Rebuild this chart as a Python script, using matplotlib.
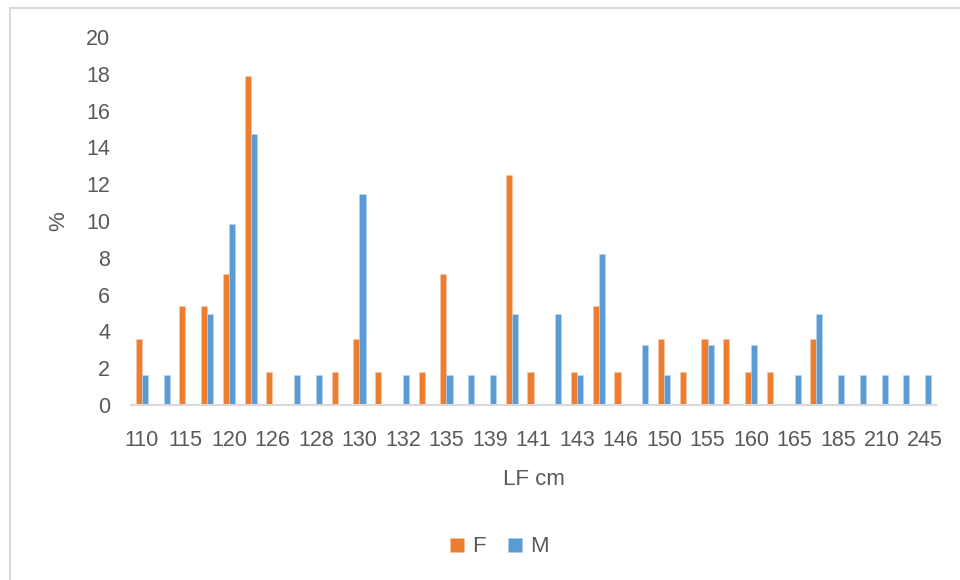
import numpy as np
import matplotlib
matplotlib.use("Agg")
import matplotlib.pyplot as plt
from matplotlib.lines import Line2D

plt.rcParams['font.family'] = ['Liberation Sans', 'DejaVu Sans']

# LF classes shown on the axis (every second class is labelled)
lf_labels = ["110", "115", "120", "126", "128", "130", "132", "135", "139", "141",
             "143", "146", "150", "155", "160", "165", "185", "210", "245"]

# % of females and males per LF class (37 classes)
female = [3.57, 0, 5.36, 5.36, 7.14, 17.86, 1.79, 0, 0, 1.79,
          3.57, 1.79, 0, 1.79, 7.14, 0, 0, 12.5, 1.79, 0,
          1.79, 5.36, 1.79, 0, 3.57, 1.79, 3.57, 3.57, 1.79, 1.79,
          0, 3.57, 0, 0, 0, 0, 0]
male = [1.64, 1.64, 0, 4.92, 9.84, 14.75, 0, 1.64, 1.64, 0,
        11.48, 0, 1.64, 0, 1.64, 1.64, 1.64, 4.92, 0, 4.92,
        1.64, 8.2, 0, 3.28, 1.64, 0, 3.28, 0, 3.28, 0,
        1.64, 4.92, 1.64, 1.64, 1.64, 1.64, 1.64]

orange = "#ED7D31"
blue = "#5B9BD5"
text_col = "#595959"

fig = plt.figure(figsize=(9.6, 5.8), dpi=100)
ax = fig.add_axes([0.1365, 0.3017, 0.8385, 0.6345])

x = np.arange(len(female))
w = 0.28
ax.bar(x - w / 2, female, w, color=orange, edgecolor="#F8C9A8", linewidth=0.4)
ax.bar(x + w / 2, male, w, color=blue, edgecolor="#BDD7EE", linewidth=0.4)

ax.set_xlim(-0.5, len(female) - 0.5)
ax.set_ylim(0, 20)
ax.set_yticks(range(0, 21, 2))
ax.set_xticks(x[::2])
ax.set_xticklabels(lf_labels)
ax.tick_params(axis="both", length=0, labelsize=15.5, labelcolor=text_col)
ax.tick_params(axis="y", pad=15)
ax.tick_params(axis="x", pad=18)

for s in ["top", "right", "left"]:
    ax.spines[s].set_visible(False)
ax.spines["bottom"].set_color("#D9D9D9")
ax.spines["bottom"].set_linewidth(1.5)

ax.set_ylabel("%", fontsize=16, color=text_col, labelpad=12)
ax.set_xlabel("LF cm", fontsize=16, color=text_col, labelpad=13)

handles = [Line2D([0], [0], marker="s", color="none", markerfacecolor=orange,
                  markeredgecolor="none", markersize=10),
           Line2D([0], [0], marker="s", color="none", markerfacecolor=blue,
                  markeredgecolor="none", markersize=10)]
fig.legend(handles, ["F", "M"], loc="center", bbox_to_anchor=(0.518, 0.057),
           ncol=2, frameon=False, fontsize=16, labelcolor=text_col,
           handletextpad=0.2, columnspacing=0.8, handlelength=1.0)

# chart border (left and top edges visible)
fig.add_artist(Line2D([0.0099, 0.0099], [0, 0.9862], transform=fig.transFigure,
                      color="#D9D9D9", linewidth=1.5))
fig.add_artist(Line2D([0.0099, 1], [0.9862, 0.9862], transform=fig.transFigure,
                      color="#D9D9D9", linewidth=1.5))

fig.savefig("out.png", dpi=100)
